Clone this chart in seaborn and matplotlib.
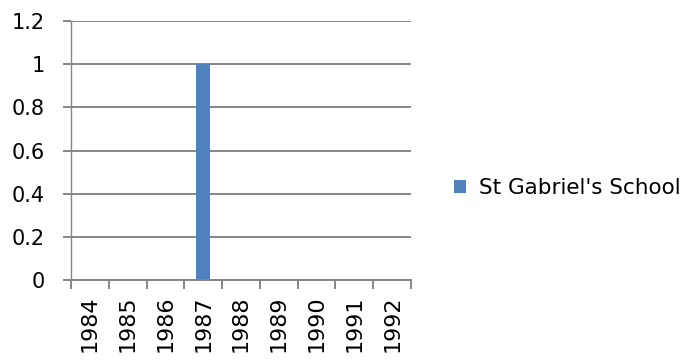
import seaborn as sns
import pandas as pd
import matplotlib.pyplot as plt

# data
years = ["1984", "1985", "1986", "1987", "1988", "1989", "1990", "1991", "1992"]
values = [0, 0, 0, 1, 0, 0, 0, 0, 0]
school = "St Gabriel's School"

df = pd.DataFrame({"year": years, "value": values, "school": school})

sns.set_style("white")
plt.rcParams['font.family'] = ['DejaVu Sans']
plt.rcParams['text.color'] = 'black'

fig = plt.figure(figsize=(6.87, 3.61), dpi=100)
ax = fig.add_axes([0.1033, 0.2244, 0.4949, 0.7174])

sns.barplot(data=df, x="year", y="value", hue="school", palette=["#4F81BD"],
            width=0.37, saturation=1, linewidth=0, ax=ax)

ax.set_ylim(0, 1.2)
ax.set_yticks([0, 0.2, 0.4, 0.6, 0.8, 1.0, 1.2])
ax.set_yticklabels(["0", "0.2", "0.4", "0.6", "0.8", "1", "1.2"], fontsize=15)
ax.set_xlim(-0.5, len(years) - 0.5)
ax.grid(axis="y", color="#868686", linewidth=1.4)
ax.set_axisbelow(True)
ax.set_xlabel("")
ax.set_ylabel("")

# category boundary ticks on the x axis
ax.set_xticks([i + 0.5 for i in range(-1, len(years))], minor=True)
ax.tick_params(axis="x", which="minor", length=6.5, width=1.4, color="#868686", bottom=True)
ax.tick_params(axis="x", which="major", length=0, pad=11, labelsize=16, labelrotation=90,
               labelcolor="black")
ax.tick_params(axis="y", length=5.8, width=1.4, color="#868686", left=True, pad=13,
               labelcolor="black")

for s in ["top", "right"]:
    ax.spines[s].set_visible(False)
ax.spines["left"].set_color("#868686")
ax.spines["left"].set_linewidth(1)
ax.spines["bottom"].set_color("#868686")
ax.spines["bottom"].set_linewidth(1.4)

sns.move_legend(ax, "center left", bbox_to_anchor=(1.1, 0.355), title=None,
                frameon=False, fontsize=15.5, handlelength=0.6, handleheight=0.6,
                handletextpad=0.6, borderaxespad=0, labelcolor="black")

fig.savefig("out.png", dpi=100)
